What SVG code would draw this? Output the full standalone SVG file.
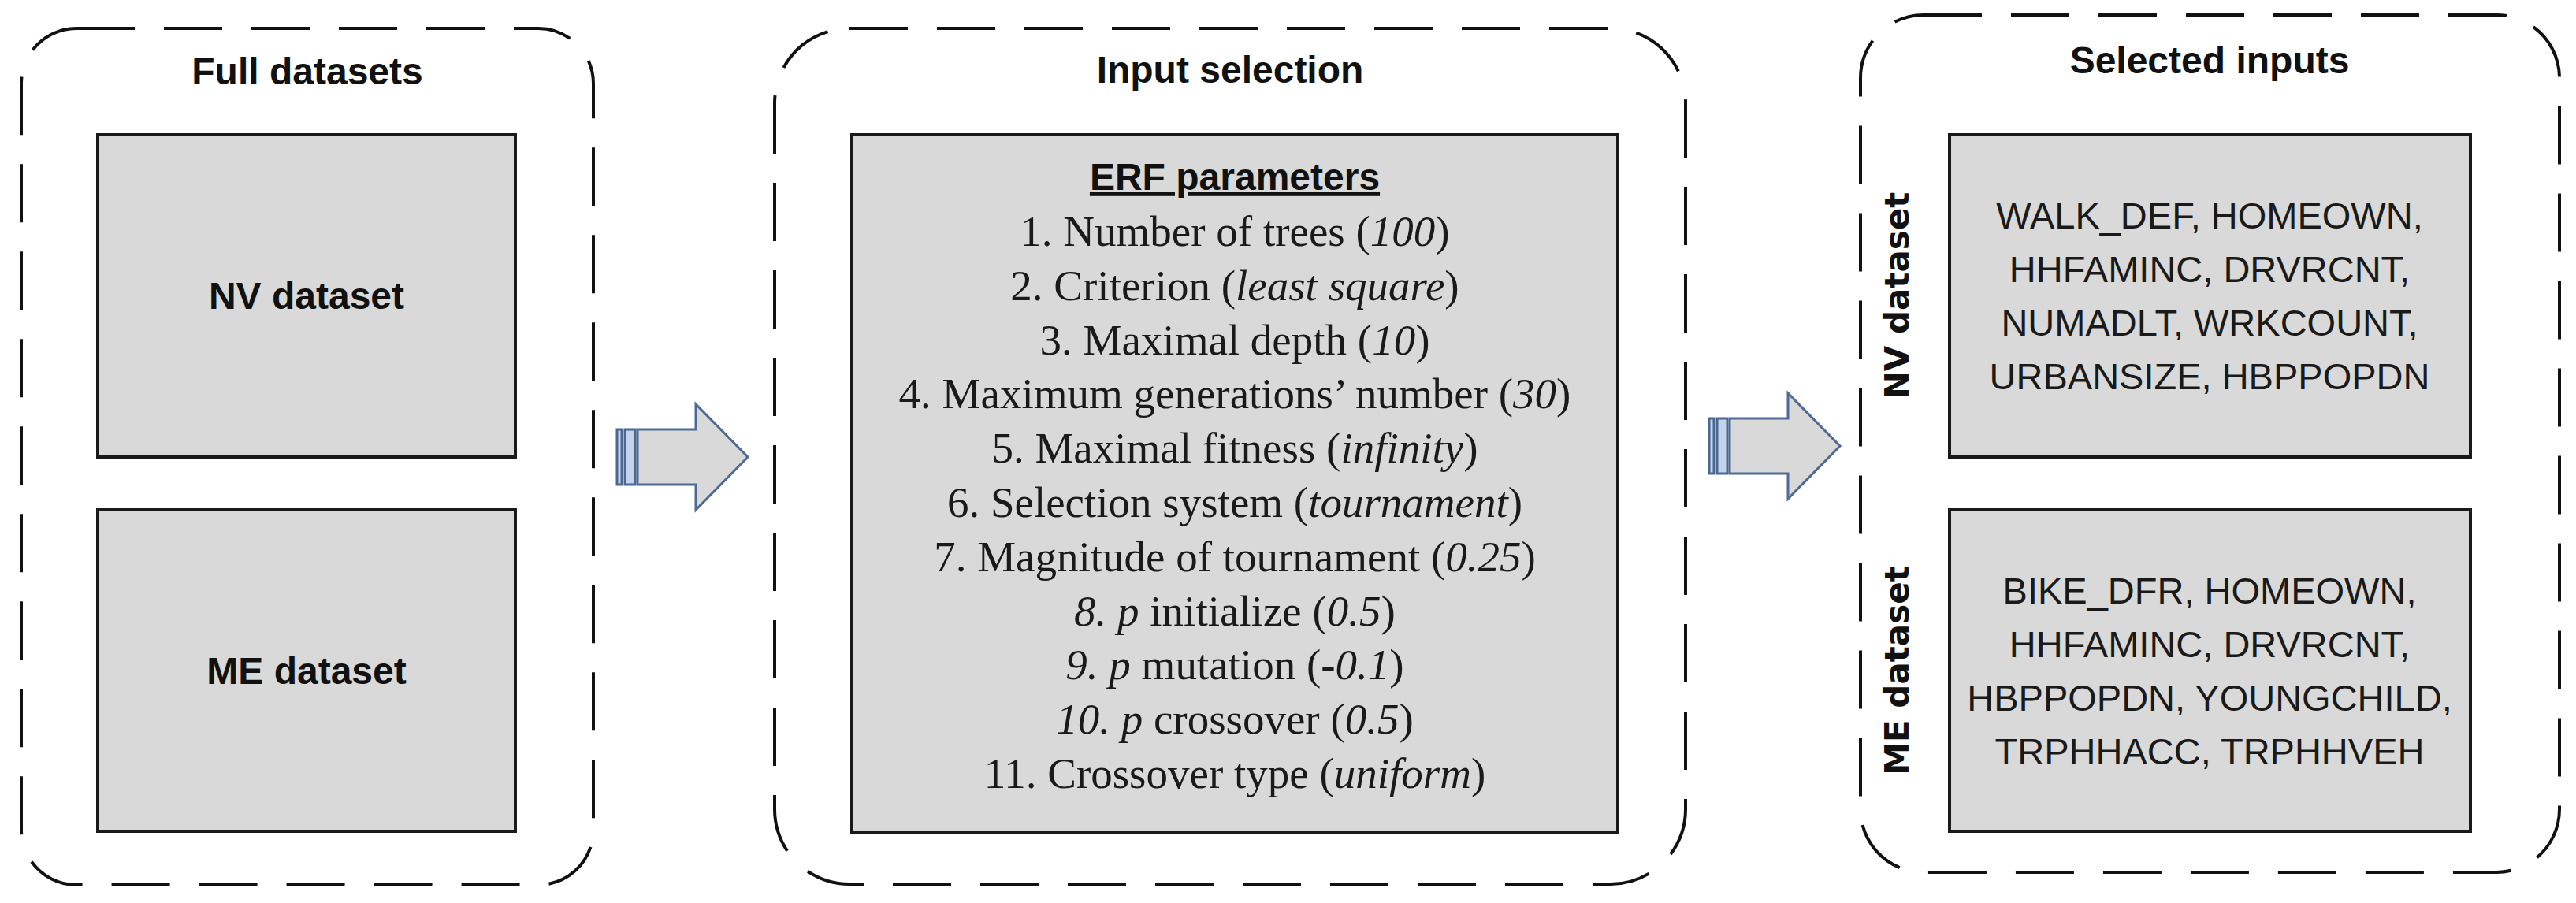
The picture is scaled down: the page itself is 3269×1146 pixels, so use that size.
<svg xmlns="http://www.w3.org/2000/svg" width="3269" height="1146" viewBox="0 0 3269 1146">
<style>
.frame{fill:none;stroke:#111;stroke-width:4;stroke-dasharray:74 37}
.box{fill:#d9d9d9;stroke:#1a1a1a;stroke-width:4}
.title{font-family:"Liberation Sans",Arial,sans-serif;font-weight:bold;font-size:48px;fill:#111;text-anchor:middle}
.vlabel{font-family:"DejaVu Sans",Verdana,sans-serif;font-weight:bold;font-size:42px;fill:#111;text-anchor:middle}
.vars{font-family:"Liberation Sans",Arial,sans-serif;font-size:47px;fill:#1a1a1a;text-anchor:middle}
.param{font-family:"Liberation Serif","Times New Roman",serif;font-size:55px;fill:#1a1a1a;text-anchor:middle}
.it{font-style:italic}
.shaft{fill:#d9d9d9;stroke:#4f6b95;stroke-width:3;stroke-linejoin:miter}
.stripe{fill:#c3d4ea;stroke:#4a6792;stroke-width:3}
</style>
<defs>
<g id="stripedArrow">
<rect class="stripe" x="0" y="-35" width="6" height="70"/>
<rect class="stripe" x="10" y="-35" width="13" height="70"/>
<path class="shaft" d="M26,-35 H100 V-67 L166,0 L100,67 V35 H26 Z"/>
</g>
</defs>

<g id="full-datasets">
<rect class="frame" x="27" y="36" width="726" height="1087" rx="70" ry="70"/>
<text class="title" x="390" y="107">Full datasets</text>
</g>
<g id="nv-dataset">
<rect class="box" x="124" y="171" width="530" height="409"/>
<text class="title" x="389" y="392">NV dataset</text>
</g>
<g id="me-dataset">
<rect class="box" x="124" y="647" width="530" height="408"/>
<text class="title" x="389" y="868">ME dataset</text>
</g>

<g id="input-selection">
<rect class="frame" x="983" y="36" width="1156" height="1086" rx="95" ry="95"/>
<text class="title" x="1561" y="105">Input selection</text>
</g>
<g id="erf-parameters">
<rect class="box" x="1081" y="171" width="972" height="885"/>
<text class="title" x="1567" y="241" text-decoration="underline">ERF parameters</text>
<text class="param" x="1567" y="312">1. Number of trees (<tspan class="it">100</tspan>)</text>
<text class="param" x="1567" y="381">2. Criterion (<tspan class="it">least square</tspan>)</text>
<text class="param" x="1567" y="450">3. Maximal depth (<tspan class="it">10</tspan>)</text>
<text class="param" x="1567" y="518">4. Maximum generations’ number (<tspan class="it">30</tspan>)</text>
<text class="param" x="1567" y="587">5. Maximal fitness (<tspan class="it">infinity</tspan>)</text>
<text class="param" x="1567" y="656">6. Selection system (<tspan class="it">tournament</tspan>)</text>
<text class="param" x="1567" y="725">7. Magnitude of tournament (<tspan class="it">0.25</tspan>)</text>
<text class="param" x="1567" y="794"><tspan class="it">8. p</tspan> initialize (<tspan class="it">0.5</tspan>)</text>
<text class="param" x="1567" y="862"><tspan class="it">9. p</tspan> mutation (<tspan class="it">-0.1</tspan>)</text>
<text class="param" x="1567" y="931"><tspan class="it">10. p</tspan> crossover (<tspan class="it">0.5</tspan>)</text>
<text class="param" x="1567" y="1000">11. Crossover type (<tspan class="it">uniform</tspan>)</text>
</g>

<g id="selected-inputs">
<rect class="frame" x="2361" y="19" width="887" height="1088" rx="80" ry="80"/>
<text class="title" x="2804" y="93">Selected inputs</text>
<text class="vlabel" x="2422" y="375" transform="rotate(-90 2422 375)">NV dataset</text>
<text class="vlabel" x="2422" y="851" transform="rotate(-90 2422 851)">ME dataset</text>
</g>
<g id="nv-selected">
<rect class="box" x="2474" y="171" width="661" height="409"/>
<text class="vars" x="2804" y="290">WALK_DEF, HOMEOWN,</text>
<text class="vars" x="2804" y="358">HHFAMINC, DRVRCNT,</text>
<text class="vars" x="2804" y="426">NUMADLT, WRKCOUNT,</text>
<text class="vars" x="2804" y="494">URBANSIZE, HBPPOPDN</text>
</g>
<g id="me-selected">
<rect class="box" x="2474" y="647" width="661" height="408"/>
<text class="vars" x="2804" y="766">BIKE_DFR, HOMEOWN,</text>
<text class="vars" x="2804" y="834">HHFAMINC, DRVRCNT,</text>
<text class="vars" x="2804" y="902">HBPPOPDN, YOUNGCHILD,</text>
<text class="vars" x="2804" y="970">TRPHHACC, TRPHHVEH</text>
</g>

<g id="connectors">
<use href="#stripedArrow" transform="translate(783 580)"/>
<use href="#stripedArrow" transform="translate(2169 566)"/>
</g>
</svg>
